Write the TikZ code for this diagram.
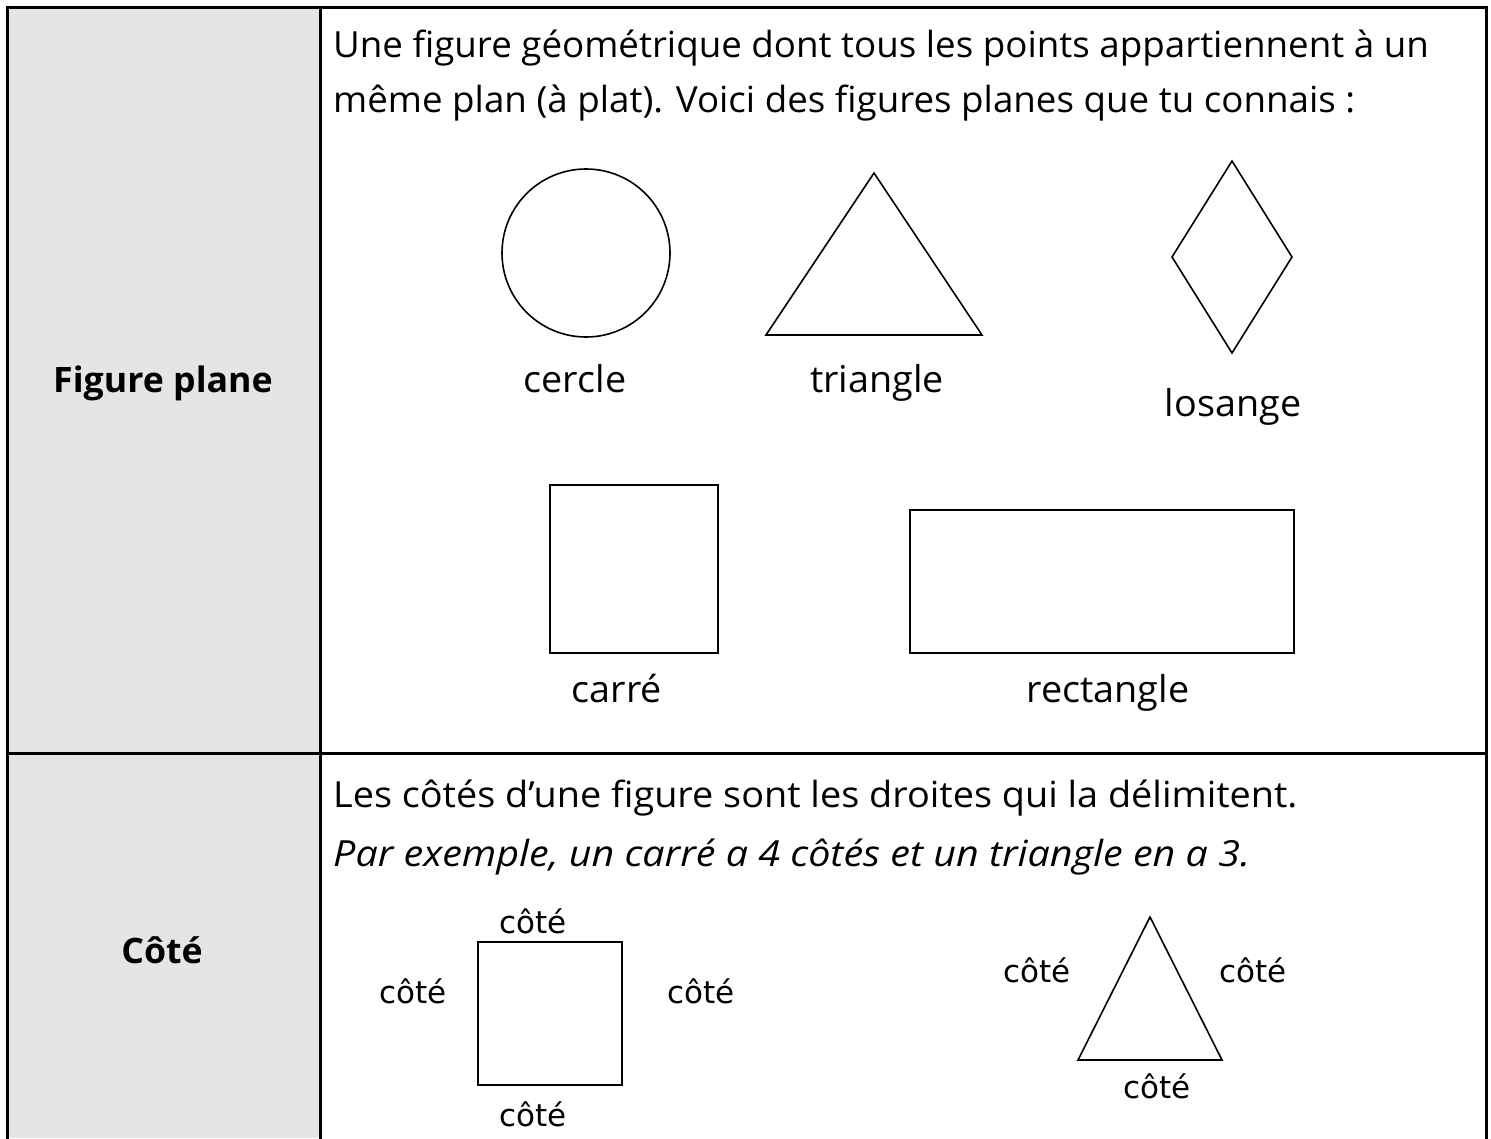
\documentclass[tikz,border=0pt]{standalone}
\usepackage{fontspec}
\usepackage{graphicx}
\setmainfont[FakeStretch=1.02]{Open Sans}
\newfontfamily\sidefont{DejaVu Sans}
\begin{document}
\begin{tikzpicture}[x=1pt,y=-1pt,
  grid/.style={line width=3pt,line cap=rect},
  fig/.style={line width=1.6pt,line join=miter},
  body/.style={font=\fontsize{36}{42}\selectfont,inner sep=0pt,anchor=base west},
  lab/.style={font=\fontsize{37}{42}\selectfont,inner sep=0pt,anchor=base},
  small/.style={font=\sidefont\fontsize{31}{36}\selectfont,inner sep=0pt,anchor=base},
  head/.style={font=\fontsize{35}{40}\selectfont\bfseries,inner sep=0pt}]
\useasboundingbox (0,0) rectangle (1491,1138);
\fill[white] (0,0) rectangle (1491,1138);
\fill[gray!20] (7,7) rectangle (320,1138);
% table lines
\draw[grid] (7,1140) -- (7,7) -- (1486,7) -- (1486,1140);
\draw[grid] (320,7) -- (320,1140);
\draw[grid] (7,753) -- (1486,753);
% headings
\node[head] (h1) at (163,383) {Figure plane};
\node[head] (h2) at (162,950) {Côté};
% row 1 text
\node[body] (t1) at (333,57) {Une figure géométrique dont tous les points appartiennent à un};
\node[body] (t2) at (333,112) {même plan (à plat). Voici des figures planes que tu connais :};
% shapes
\node[fig,draw,circle,minimum size=168pt,inner sep=0pt] (cercle) at (586,253) {};
\draw[fig] (874,173) -- (982,335) -- (766,335) -- cycle;
\draw[fig] (1232,161) -- (1292,257) -- (1232,353) -- (1172,257) -- cycle;
\draw[fig] (550,485) rectangle (718,653);
\draw[fig] (910,510) rectangle (1294,653);
\node[lab] (lc) at (575,392) {cercle};
\node[lab] (lt) at (877,392) {triangle};
\node[lab] (ll) at (1233,416) {losange};
\node[lab] (lca) at (617,702) {carré};
\node[lab] (lr) at (1108,702) {rectangle};
% row 2 text
\node[body] (t3) at (333,807) {\scalebox{1.03}[1]{Les côtés d’une figure sont les droites qui la délimitent.}};
\node[body] (t4) at (333,866) {\scalebox{1.075}[1]{\itshape Par exemple, un carré a 4 côtés et un triangle en a 3.}};
% square with sides
\draw[fig] (478,942) rectangle (622,1085);
\node[small] (c1) at (533,933) {côté};
\node[small] (c2) at (413,1003) {côté};
\node[small] (c3) at (701,1003) {côté};
\node[small] (c4) at (533,1126) {côté};
% triangle with sides
\draw[fig] (1150,917) -- (1222,1060) -- (1078,1060) -- cycle;
\node[small] (c5) at (1037,982) {côté};
\node[small] (c6) at (1253,982) {côté};
\node[small] (c7) at (1157,1098) {côté};
\end{tikzpicture}
\end{document}
